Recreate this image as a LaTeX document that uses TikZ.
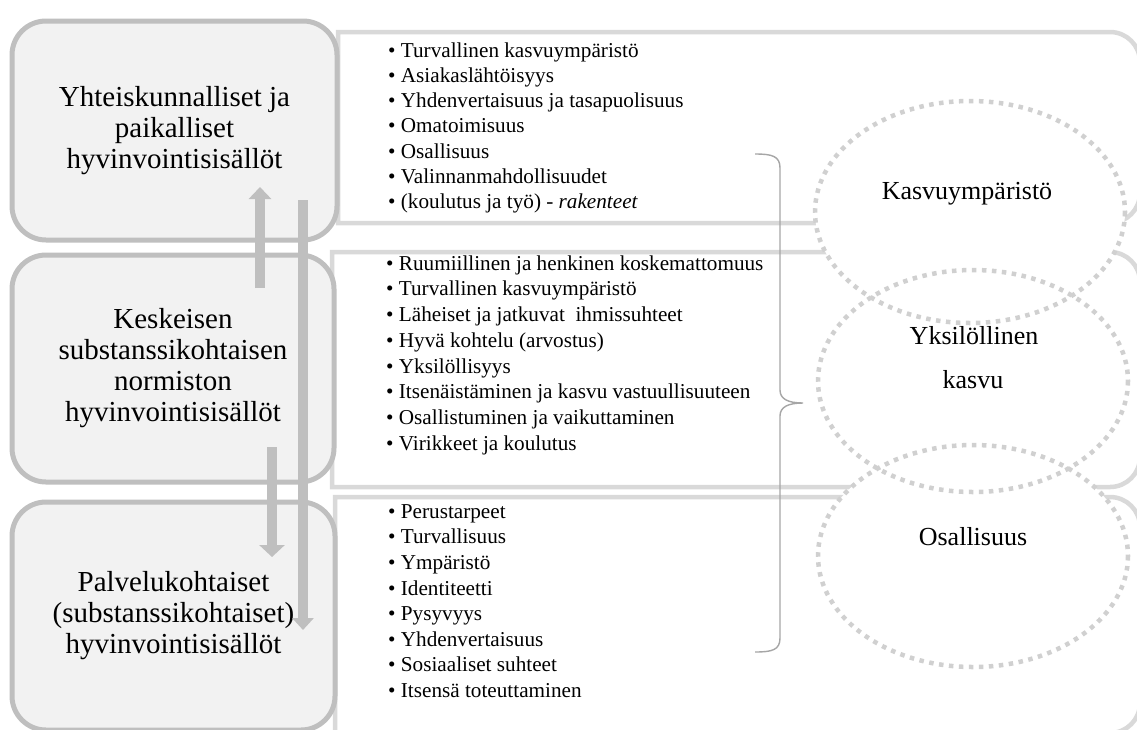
\documentclass[tikz,border=0pt]{standalone}
\usepackage{fontspec}
\setmainfont{Liberation Serif}
\usetikzlibrary{arrows.meta,shapes.geometric}
\definecolor{boxfill}{HTML}{F2F2F2}
\definecolor{boxline}{HTML}{BFBFBF}
\definecolor{panelline}{HTML}{D9D9D9}
\definecolor{dotline}{HTML}{D0D0D0}
\definecolor{braceline}{HTML}{A6A6A6}
\begin{document}
\begin{tikzpicture}[x=1pt,y=-1pt,
  levelbox/.style={draw=boxline, fill=boxfill, line width=5pt, rounded corners=34pt,
    inner sep=0pt, align=center, font=\fontsize{29}{31}\selectfont},
  panel/.style={draw=panelline, fill=white, line width=4.5pt},
  itemlist/.style={anchor=north west, inner sep=0pt, align=left,
    font=\fontsize{21.2}{#1}\selectfont},
  blockarr/.style={draw=boxline, line width=10.5pt, -{Triangle[width=#1,length=12pt]}},
  bracket/.style={draw=braceline, line width=1.4pt},
  bubble/.style={ellipse, fill=white, minimum width=310pt, minimum height=222pt, inner sep=0pt},
  dotring/.style={draw=dotline, line width=4.5pt, dash pattern=on 4.5pt off 5.5pt},
  bubbletext/.style={font=\fontsize{26}{30}\selectfont, anchor=base, inner sep=0pt}
]
\useasboundingbox (0,0) rectangle (1137,729);
\clip (0,0) rectangle (1137,729);

% content panels, square on the left, rounded on the right
\draw[panel] (338,223) -- (338,32) -- (1110,32) arc[start angle=-90,end angle=0,radius=30]
  -- (1140,193) arc[start angle=0,end angle=90,radius=30] -- cycle;
\draw[panel] (332,487) -- (332,252) -- (1110,252) arc[start angle=-90,end angle=0,radius=30]
  -- (1140,457) arc[start angle=0,end angle=90,radius=30] -- cycle;
\draw[panel] (335,733) -- (335,497) -- (1110,497) arc[start angle=-90,end angle=0,radius=30]
  -- (1140,703) arc[start angle=0,end angle=90,radius=30] -- cycle;

% level boxes
\node[levelbox, minimum width=325pt, minimum height=219pt] (b1) at (174.5,130.5)
  {Yhteiskunnalliset ja\\paikalliset\\hyvinvointisisällöt};
\node[levelbox, minimum width=322pt, minimum height=227pt] (b2) at (173,368.5)
  {Keskeisen\\substanssikohtaisen\\normiston\\hyvinvointisisällöt};
\node[levelbox, minimum width=323pt, minimum height=228pt] (b3) at (173.5,616)
  {Palvelukohtaiset\\(substanssikohtaiset)\\hyvinvointisisällöt};

% block arrows between the levels
\coordinate (upFrom) at (260,288);   \coordinate (upTo) at (260,187);
\coordinate (dnFrom) at (272,447);   \coordinate (dnTo) at (272,557);
\coordinate (longFrom) at (303,200); \coordinate (longTo) at (303,630);
\draw[blockarr=22pt] (upFrom) -- (upTo);
\draw[blockarr=25pt] (dnFrom) -- (dnTo);
\draw[blockarr=21pt] (longFrom) -- (longTo);

% item lists
\node[itemlist=25.2] (listA) at (388,39.36) {\strut• Turvallinen kasvuympäristö\\
  \strut• Asiakaslähtöisyys\\
  \strut• Yhdenvertaisuus ja tasapuolisuus\\
  \strut• Omatoimisuus\\
  \strut• Osallisuus\\
  \strut• Valinnanmahdollisuudet\\
  \strut• (koulutus ja työ) - \textit{rakenteet}};
\node[itemlist=25.7] (listB) at (386,252) {\strut• Ruumiillinen ja henkinen koskemattomuus\\
  \strut• Turvallinen kasvuympäristö\\
  \strut• Läheiset ja jatkuvat~ ihmissuhteet\\
  \strut• Hyvä kohtelu (arvostus)\\
  \strut• Yksilöllisyys\\
  \strut• Itsenäistäminen ja kasvu vastuullisuuteen\\
  \strut• Osallistuminen ja vaikuttaminen\\
  \strut• Virikkeet ja koulutus};
\node[itemlist=25.6] (listC) at (388,500.1) {\strut• Perustarpeet\\
  \strut• Turvallisuus\\
  \strut• Ympäristö\\
  \strut• Identiteetti\\
  \strut• Pysyvyys\\
  \strut• Yhdenvertaisuus\\
  \strut• Sosiaaliset suhteet\\
  \strut• Itsensä toteuttaminen};

% right brace grouping the lists
\draw[bracket] (755,154) .. controls (772,154) and (780,156) .. (780,168) -- (780,390)
  .. controls (780,399) and (788,403) .. (803,403)
  .. controls (788,403) and (780,407) .. (780,416) -- (780,638)
  .. controls (780,650) and (772,652) .. (755,652);

% outcome bubbles: white fills first, then the dotted outlines
\node[bubble] (e1) at (970,212) {};
\node[bubble] (e2) at (973,381) {};
\node[bubble] (e3) at (973,556) {};
\draw[dotring] (e1.center) ellipse [x radius=155, y radius=111];
\draw[dotring] (e2.center) ellipse [x radius=155, y radius=111];
\draw[dotring] (e3.center) ellipse [x radius=155, y radius=111];
\node[bubbletext] (t1) at (967,199) {Kasvuympäristö};
\node[bubbletext] (t2a) at (974,344) {Yksilöllinen};
\node[bubbletext] (t2b) at (973,388) {kasvu};
\node[bubbletext] (t3) at (973,545) {Osallisuus};
\end{tikzpicture}
\end{document}
